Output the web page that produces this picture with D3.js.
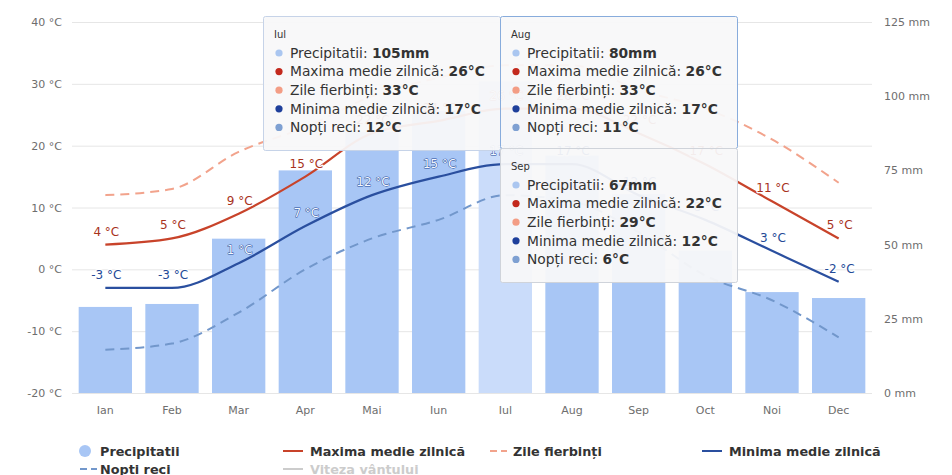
<!DOCTYPE html>
<html>
<head>
<meta charset="utf-8">
<script src="https://cdn.jsdelivr.net/npm/d3@7"></script>
<style>
  html, body { margin: 0; padding: 0; background: #ffffff; }
  svg { display: block; font-family: "DejaVu Sans", Verdana, sans-serif; }
</style>
</head>
<body>
<svg id="chart" width="952" height="475"></svg>
<script>
// Monthly climate: precipitation bars (right axis) and four temperature lines (left axis)
const months = ["Ian", "Feb", "Mar", "Apr", "Mai", "Iun", "Iul", "Aug", "Sep", "Oct", "Noi", "Dec"];
const precipitatii = [29, 30, 52, 75, 88, 95, 105, 80, 67, 48, 34, 32];
const maximaMedie = [4, 5, 9, 15, 22, 24, 26, 26, 22, 17, 11, 5];
const zileFierbinti = [12, 13, 19, 23, 28, 31, 33, 33, 29, 26, 21, 14];
const minimaMedie = [-3, -3, 1, 7, 12, 15, 17, 17, 12, 8, 3, -2];
const noptiReci = [-13, -12, -7, 0, 5, 8, 12, 11, 6, -1, -5, -11];
const tempTicks = [-20, -10, 0, 10, 20, 30, 40];
const precTicks = [0, 25, 50, 75, 100, 125];
const hoverMonth = "Iul";

const colors = {
  bar: "#a8c6f5",
  barHover: "#cadcfa",
  max: "#c8432a",
  zile: "#f2a38c",
  min: "#2a4f9f",
  nopti: "#7297cb",
  grid: "#e6e6e6",
  axisText: "#6e6e6e"
};

const svg = d3.select("#chart");
const plot = { left: 72, right: 872, top: 22, bottom: 393 };

const x = d3.scaleBand().domain(months).range([plot.left, plot.right])
  .paddingInner(0.2).paddingOuter(0.1);
const cx = m => x(m) + x.bandwidth() / 2;
const yT = d3.scaleLinear().domain([-20, 40]).range([plot.bottom, plot.top]);
const yP = d3.scaleLinear().domain([0, 125]).range([plot.bottom, plot.top]);

// Horizontal grid at the temperature ticks
svg.append("g").selectAll("line").data(tempTicks).join("line")
  .attr("x1", plot.left).attr("x2", plot.right)
  .attr("y1", d => yT(d) + 0.5).attr("y2", d => yT(d) + 0.5)
  .attr("stroke", colors.grid).attr("stroke-width", 1);

// Left temperature axis
const axisL = svg.append("g").attr("transform", `translate(${plot.left - 8},0)`)
  .call(d3.axisLeft(yT).tickValues(tempTicks).tickSize(0).tickPadding(2).tickFormat(d => `${d} °C`));
axisL.select(".domain").remove();
axisL.selectAll("text").attr("fill", colors.axisText).style("font-size", "11px")
  .style("font-family", "DejaVu Sans, sans-serif");

// Right precipitation axis
const axisR = svg.append("g").attr("transform", `translate(${plot.right + 12},0)`)
  .call(d3.axisRight(yP).tickValues(precTicks).tickSize(0).tickPadding(0).tickFormat(d => `${d} mm`));
axisR.select(".domain").remove();
axisR.selectAll("text").attr("fill", colors.axisText).style("font-size", "11px")
  .style("font-family", "DejaVu Sans, sans-serif");

// Month axis
const axisB = svg.append("g").attr("transform", `translate(0,${plot.bottom})`)
  .call(d3.axisBottom(x).tickSize(0).tickPadding(13));
axisB.select(".domain").remove();
axisB.selectAll("text").attr("fill", colors.axisText).style("font-size", "11px")
  .style("font-family", "DejaVu Sans, sans-serif");

// Precipitation bars
svg.append("g").selectAll("rect").data(months).join("rect")
  .attr("x", d => x(d)).attr("width", x.bandwidth())
  .attr("y", (d, i) => yP(precipitatii[i]))
  .attr("height", (d, i) => yP(0) - yP(precipitatii[i]))
  .attr("fill", d => d === hoverMonth ? colors.barHover : colors.bar);

// Temperature lines
const line = d3.line().x((d, i) => cx(months[i])).y(d => yT(d)).curve(d3.curveMonotoneX);
const series = [
  { values: noptiReci, color: colors.nopti, dash: "9,6", width: 2 },
  { values: zileFierbinti, color: colors.zile, dash: "9,6", width: 2 },
  { values: minimaMedie, color: colors.min, dash: null, width: 2.2 },
  { values: maximaMedie, color: colors.max, dash: null, width: 2.2 }
];
svg.append("g").selectAll("path").data(series).join("path")
  .attr("d", s => line(s.values))
  .attr("fill", "none")
  .attr("stroke", s => s.color)
  .attr("stroke-width", s => s.width)
  .attr("stroke-dasharray", s => s.dash);

// Value labels for the daily max / min lines
const labelSeries = [
  { values: maximaMedie, color: "#a8321c" },
  { values: minimaMedie, color: "#244a97" }
];
const labels = svg.append("g").style("font-size", "12px");
labelSeries.forEach(s => {
  s.values.forEach((v, i) => {
    const ly = yT(v) - 9;
    const insideBar = ly - 4 > yP(precipitatii[i]);
    labels.append("text")
      .attr("x", cx(months[i]) + 1).attr("y", ly)
      .attr("text-anchor", "middle")
      .attr("fill", insideBar ? "#f4f8ff" : s.color)
      .attr("stroke", insideBar ? s.color : "#ffffff")
      .attr("stroke-width", insideBar ? 0.9 : 2.5)
      .attr("stroke-linejoin", "round")
      .style("paint-order", "stroke")
      .text(`${v} °C`);
  });
});

// Tooltip boxes for the hovered months
const tipRows = [
  { name: "Precipitatii", data: precipitatii, unit: "mm", color: "#aac6f0" },
  { name: "Maxima medie zilnică", data: maximaMedie, unit: "°C", color: "#c3291d" },
  { name: "Zile fierbinți", data: zileFierbinti, unit: "°C", color: "#f39d85" },
  { name: "Minima medie zilnică", data: minimaMedie, unit: "°C", color: "#1e3f9b" },
  { name: "Nopți reci", data: noptiReci, unit: "°C", color: "#7ea0d2" }
];
const tooltips = [
  { month: "Iul", x: 263, y: 16, w: 237, h: 134, border: "#c6d3e8" },
  { month: "Aug", x: 500, y: 16, w: 237, h: 132, border: "#88acdc" },
  { month: "Sep", x: 500, y: 148, w: 237, h: 134, border: "#cfd3da" }
];
tooltips.forEach(t => {
  const idx = months.indexOf(t.month);
  const g = svg.append("g").attr("transform", `translate(${t.x},${t.y})`);
  g.append("rect").attr("x", 0.5).attr("y", 0.5).attr("width", t.w).attr("height", t.h)
    .attr("rx", 2).attr("fill", "rgba(248,248,249,0.94)")
    .attr("stroke", t.border).attr("stroke-width", 1);
  g.append("text").attr("x", 11).attr("y", 22).attr("fill", "#333")
    .style("font-size", "10px").text(t.month);
  tipRows.forEach((r, k) => {
    const ry = 37 + k * 18.6;
    g.append("circle").attr("cx", 16).attr("cy", ry).attr("r", 3.6).attr("fill", r.color);
    const tx = g.append("text").attr("x", 27).attr("y", ry + 4.8)
      .attr("fill", "#333").style("font-size", "13.8px");
    tx.append("tspan").text(`${r.name}: `);
    tx.append("tspan").attr("font-weight", "bold").text(`${r.data[idx]}${r.unit}`);
  });
});

// Legend
const legend = svg.append("g").style("font-size", "12.8px").attr("font-weight", "bold");
const legendItems = [
  { label: "Precipitatii", type: "circle", color: colors.bar, x: 85, y: 451 },
  { label: "Maxima medie zilnică", type: "line", color: colors.max, x: 283, y: 451 },
  { label: "Zile fierbinți", type: "dash", color: colors.zile, x: 490, y: 451 },
  { label: "Minima medie zilnică", type: "line", color: colors.min, x: 702, y: 451 },
  { label: "Nopti reci", type: "dash", color: colors.nopti, x: 80, y: 469 },
  { label: "Viteza vântului", type: "line", color: "#cccccc", x: 283, y: 469, hidden: true }
];
legendItems.forEach(it => {
  let textX;
  if (it.type === "circle") {
    legend.append("circle").attr("cx", it.x).attr("cy", it.y).attr("r", 6).attr("fill", it.color);
    textX = it.x + 15;
  } else {
    const len = it.type === "dash" ? 17 : 20;
    legend.append("line").attr("x1", it.x).attr("x2", it.x + len)
      .attr("y1", it.y).attr("y2", it.y)
      .attr("stroke", it.color).attr("stroke-width", 2)
      .attr("stroke-dasharray", it.type === "dash" ? "7,4" : null);
    textX = it.x + (it.type === "dash" ? 23 : 27);
    if (it.label === "Nopti reci") textX = it.x + 20;
  }
  legend.append("text").attr("x", textX).attr("y", it.y + 4.5)
    .attr("fill", it.hidden ? "#cccccc" : "#333333").text(it.label);
});
</script>
</body>
</html>
